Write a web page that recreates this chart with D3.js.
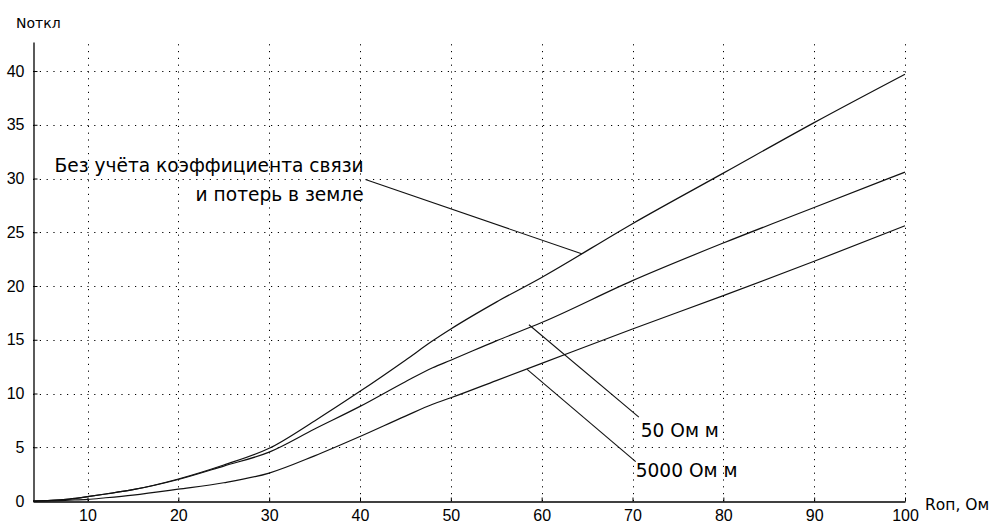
<!DOCTYPE html>
<html>
<head>
<meta charset="utf-8">
<script src="https://cdn.jsdelivr.net/npm/d3@7"></script>
<style>
  body { margin: 0; background: #fff; }
  svg { display: block; font-family: "Liberation Sans", Arial, sans-serif; }
</style>
</head>
<body>
<div id="chart"></div>
<script>
let width = 992, height = 523;
let margin = ({top: 42, right: 87, bottom: 22, left: 33});

// Ron, Ohm
let rValues = [4, 6, 8, 10, 12, 15, 20, 25, 30, 35, 40, 45, 48, 50, 55, 60, 70, 80, 90, 100];
// N otkl without coupling coefficient and ground losses
let nNoCoupling = [0, 0.05, 0.18, 0.4, 0.65, 1.05, 2.05, 3.35, 4.9, 7.45, 10.2, 13.1, 14.9, 16.0, 18.5, 20.8, 25.8, 30.5, 35.2, 39.7];
// 50 Ohm m
let n50 = [0, 0.05, 0.18, 0.4, 0.65, 1.05, 2.0, 3.25, 4.55, 6.7, 8.8, 11.1, 12.4, 13.1, 14.9, 16.6, 20.5, 24.0, 27.3, 30.6];
// 5000 Ohm m
let n5000 = [0, 0.02, 0.08, 0.15, 0.3, 0.55, 1.1, 1.7, 2.6, 4.2, 6.0, 7.9, 9.0, 9.6, 11.2, 12.8, 16.0, 19.1, 22.3, 25.6];

let xTicks = [10, 20, 30, 40, 50, 60, 70, 80, 90, 100];
let yTicks = [0, 5, 10, 15, 20, 25, 30, 35, 40];

// annotations: leader line from -> to in data units, text at "at"
let notes = [
  {from: [40.6, 29.9], to: [64.4, 23.0], lines: ["Без учёта коэффициента связи", "и потерь в земле"], at: [40.4, 30.6], anchor: "end"},
  {from: [58.6, 16.4], to: [70.7, 7.8], lines: ["50 Ом м"], at: [70.9, 5.95], anchor: "start"},
  {from: [58.4, 12.25], to: [70.35, 3.66], lines: ["5000 Ом м"], at: [70.35, 2.25], anchor: "start"}
];

let x = d3.scaleLinear()
    .domain([4, 100])
    .range([margin.left, width - margin.right]);
let y = d3.scaleLinear()
    .domain([0, 42.7])
    .range([height - margin.bottom, margin.top]);

let svg = d3.select("#chart")
    .append("svg")
    .attr("width", width)
    .attr("height", height)
    .attr("viewBox", [0, 0, width, height]);

// dotted grid
let grid = svg.append("g")
    .attr("stroke", "#000")
    .attr("stroke-width", 1)
    .attr("stroke-dasharray", "1.2,5.6");
grid.append("g").selectAll("line")
    .data(xTicks)
    .join("line")
    .attr("x1", d => Math.round(x(d)) + 0.5)
    .attr("x2", d => Math.round(x(d)) + 0.5)
    .attr("y1", y(0))
    .attr("y2", margin.top);
grid.append("g").selectAll("line")
    .data(yTicks.filter(d => d > 0))
    .join("line")
    .attr("y1", d => Math.round(y(d)) + 0.5)
    .attr("y2", d => Math.round(y(d)) + 0.5)
    .attr("x1", margin.left)
    .attr("x2", x(100));

// axes
let xAxis = g => g
    .attr("transform", `translate(0,${Math.round(y(0)) + 0.5})`)
    .call(d3.axisBottom(x).tickValues(xTicks).tickSizeInner(-4).tickSizeOuter(0).tickPadding(8))
    .call(g => g.select(".domain").attr("stroke", "#000").attr("stroke-width", 1.3))
    .call(g => g.selectAll(".tick line").attr("stroke", "#000"))
    .call(g => g.selectAll(".tick text").attr("font-size", 16).attr("font-family", null).attr("fill", "#000"));
let yAxis = g => g
    .attr("transform", `translate(${margin.left + 0.5},0)`)
    .call(d3.axisLeft(y).tickValues(yTicks).tickSizeInner(-4).tickSizeOuter(0).tickPadding(9))
    .call(g => g.select(".domain").attr("stroke", "#000").attr("stroke-width", 1.3))
    .call(g => g.selectAll(".tick line").attr("stroke", "#000"))
    .call(g => g.selectAll(".tick text").attr("font-size", 16).attr("font-family", null).attr("fill", "#000"));

svg.append("g").call(xAxis);
svg.append("g").call(yAxis);

svg.append("text")
    .attr("x", 16)
    .attr("y", 28)
    .attr("font-family", "DejaVu Sans")
    .attr("font-size", 14)
    .text("Nоткл");
svg.append("text")
    .attr("x", 925)
    .attr("y", 510)
    .attr("font-family", "DejaVu Sans")
    .attr("font-size", 15.5)
    .text("Rоп, Ом");

// curves
let line = d3.line()
    .x(d => x(d[0]))
    .y(d => y(d[1]))
    .curve(d3.curveMonotoneX);

svg.append("g")
    .attr("fill", "none")
    .attr("stroke", "#111")
    .attr("stroke-width", 1.2)
    .selectAll("path")
    .data([nNoCoupling, n50, n5000])
    .join("path")
    .attr("d", s => line(rValues.map((r, i) => [r, s[i]])));

// annotations
let ann = svg.append("g");
ann.selectAll("line")
    .data(notes)
    .join("line")
    .attr("x1", d => x(d.from[0]))
    .attr("y1", d => y(d.from[1]))
    .attr("x2", d => x(d.to[0]))
    .attr("y2", d => y(d.to[1]))
    .attr("stroke", "#111")
    .attr("stroke-width", 1.1);
ann.selectAll("text")
    .data(notes)
    .join("text")
    .attr("x", d => x(d.at[0]))
    .attr("y", d => y(d.at[1]))
    .attr("text-anchor", d => d.anchor)
    .attr("font-family", "DejaVu Sans")
    .attr("font-size", 18.6)
    .selectAll("tspan")
    .data(d => d.lines.map(l => ({l, x: x(d.at[0])})))
    .join("tspan")
    .attr("x", d => d.x)
    .attr("dy", (d, i) => i ? 29 : 0)
    .text(d => d.l);
</script>
</body>
</html>
